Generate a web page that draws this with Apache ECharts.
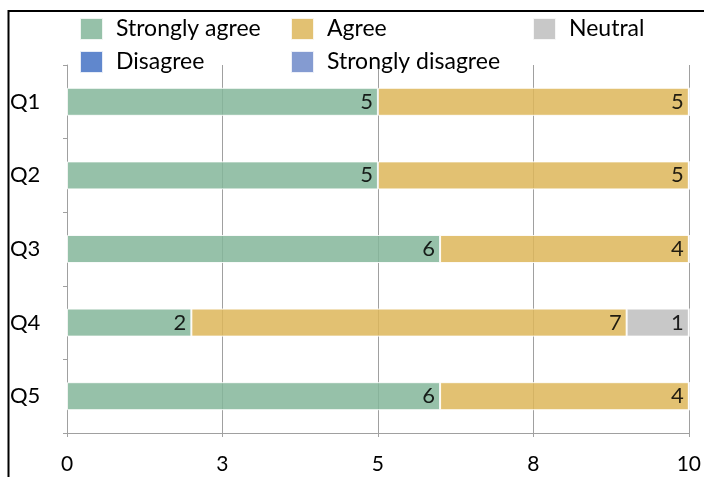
<!DOCTYPE html>
<html>
<head>
<meta charset="utf-8">
<script src="https://cdn.jsdelivr.net/npm/echarts@6/dist/echarts.min.js"></script>
<style>html,body{margin:0;padding:0;background:#fff;}#c{width:704px;height:477px;}</style>
</head>
<body>
<div id="c"></div>
<script>
const categories = ['Q1', 'Q2', 'Q3', 'Q4', 'Q5'];
const seriesNames = ['Strongly agree', 'Agree', 'Neutral', 'Disagree', 'Strongly disagree'];
const stronglyAgree = [5, 5, 6, 2, 6];
const agree = [5, 5, 4, 7, 4];
const neutral = [0, 0, 0, 1, 0];
const disagree = [0, 0, 0, 0, 0];
const stronglyDisagree = [0, 0, 0, 0, 0];
const xTickLabels = ['0', '3', '5', '8', '10'];

const values = [stronglyAgree, agree, neutral, disagree, stronglyDisagree];
const colors = ['#84B69A', '#DDB659', '#BEBEBE', '#4472C4', '#6F89C9'];
const FONT = 'Lato';

const chart = echarts.init(document.getElementById('c'));
const legendText = { color: '#000', fontSize: 23, fontFamily: FONT, padding: [0, 0, 0, 8] };
function legend(left, names) {
  return {
    left: left, top: 17, orient: 'vertical', icon: 'rect',
    itemWidth: 23, itemHeight: 22, itemGap: 9, padding: 0,
    data: names, textStyle: legendText, selectedMode: false
  };
}
chart.setOption({
  animation: false,
  color: colors,
  graphic: [{
    type: 'rect', shape: { x: 8.5, y: 11, width: 800, height: 600 },
    style: { fill: 'none', stroke: '#000', lineWidth: 2 }, z: 100
  }],
  legend: [
    legend(79, ['Strongly agree', 'Disagree']),
    legend(290, ['Agree', 'Strongly disagree']),
    legend(532, ['Neutral'])
  ],
  grid: { left: 67, right: 12, top: 65, bottom: 44, containLabel: false },
  xAxis: {
    type: 'value', min: 0, max: 10, interval: 2.5,
    axisLine: { show: true, lineStyle: { color: '#a0a0a0', width: 1 } },
    axisTick: { show: true, length: 4, lineStyle: { color: '#a0a0a0' } },
    splitLine: { show: true, lineStyle: { color: '#a0a0a0', width: 1 } },
    axisLabel: {
      color: '#000', fontSize: 21, fontFamily: FONT, margin: 21,
      formatter: function (v) { return xTickLabels[Math.round(v / 2.5)]; }
    }
  },
  yAxis: {
    type: 'category', data: categories, inverse: true,
    axisLine: { show: true, lineStyle: { color: '#a0a0a0', width: 1 } },
    axisTick: { show: true, length: 4, lineStyle: { color: '#a0a0a0' } },
    splitLine: { show: false },
    axisLabel: { color: '#000', fontSize: 22, fontFamily: FONT, align: 'left', margin: 57 }
  },
  series: seriesNames.map(function (name, i) {
    return {
      name: name, type: 'bar', stack: 'total', barWidth: 28,
      data: values[i],
      itemStyle: { color: colors[i], opacity: 0.85, borderColor: '#fff', borderWidth: 1 },
      label: {
        show: true, position: 'insideRight', distance: 5,
        color: '#000', fontSize: 22, fontFamily: FONT,
        formatter: function (p) { return p.value ? String(p.value) : ''; }
      }
    };
  })
});
</script>
</body>
</html>
